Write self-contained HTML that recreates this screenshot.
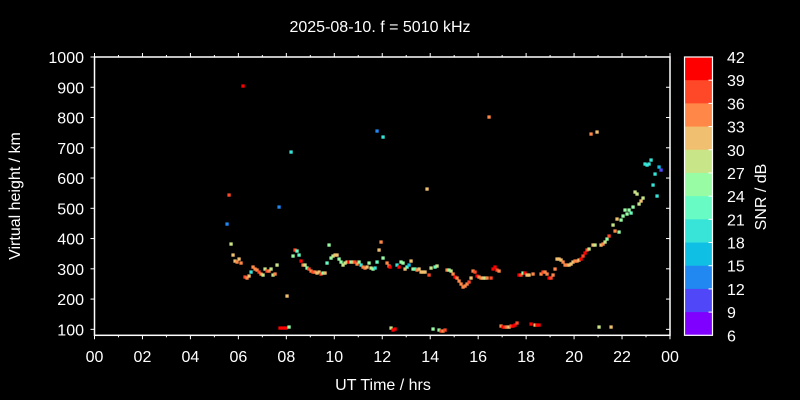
<!DOCTYPE html>
<html><head><meta charset="utf-8"><style>
html,body{margin:0;padding:0;background:#000;}
svg{display:block;font-family:"Liberation Sans",sans-serif;}
</style></head><body>
<svg id="s" width="800" height="400" xmlns="http://www.w3.org/2000/svg">
<rect width="800" height="400" fill="#000"/>
<text x="380" y="32" fill="#fff" font-size="16" text-anchor="middle">2025-08-10. f = 5010 kHz</text>
<g id="axes" stroke="#fff" stroke-width="1.5" fill="none">
<rect x="94.5" y="57" width="575.5" height="278.3"/>
</g>
<g id="ticks" stroke="#fff" stroke-width="1"></g>
<g id="labels" fill="#fff" font-size="16"></g>
<text x="383" y="390" fill="#fff" font-size="16" text-anchor="middle">UT Time / hrs</text>
<text transform="translate(20,196) rotate(-90)" fill="#fff" font-size="16" text-anchor="middle">Virtual height / km</text>
<g id="cb"></g>
<text transform="translate(766,197) rotate(-90)" fill="#fff" font-size="16" text-anchor="middle">SNR / dB</text>
<g id="pts"></g>
</svg>
<script>
var NS="http://www.w3.org/2000/svg";
function el(t,a,p,txt){var e=document.createElementNS(NS,t);for(var k in a)e.setAttribute(k,a[k]);if(txt!==undefined)e.textContent=txt;document.getElementById(p).appendChild(e);return e;}
var x0=94.5,x1=670,y0=57,y1=335.3;
// x ticks
for(var h=0;h<=24;h++){var x=x0+h*(x1-x0)/24;var L=(h%2==0)?4:2;
 el("line",{x1:x,y1:y1,x2:x,y2:y1+L},"ticks");el("line",{x1:x,y1:y0,x2:x,y2:y0-L},"ticks");
 if(h%2==0){var s=(h%24<10?"0":"")+(h%24);el("text",{x:x,y:362,"text-anchor":"middle"},"labels",s);}}
// y ticks
for(var v=100;v<=1000;v+=100){var y=57+(1000-v)*30.26/100;
 el("line",{x1:x0,y1:y,x2:x0-4,y2:y},"ticks");el("line",{x1:x1,y1:y,x2:x1-4,y2:y},"ticks");
 el("text",{x:84,y:y+6,"text-anchor":"end"},"labels",String(v));}
// colorbar
var C={R:"#ff0000",r:"#ff4828",o:"#ff8848",y:"#f0c070",l:"#c8e688",g:"#98fca4",m:"#68fcc4",t:"#38e4d8",c:"#10c0e4",b:"#2088f0",v:"#5048f8",p:"#8000ff"};
var order="Rroylgmtcbvp";var bh=(335.3-57)/12;
for(var i=0;i<12;i++){el("rect",{x:684.5,y:57+i*bh,width:28,height:bh+0.5,fill:C[order[i]]},"cb");}
el("rect",{x:684.5,y:57,width:28,height:278.3,fill:"none",stroke:"#fff","stroke-width":1.2},"cb");
for(var i=1;i<12;i++){el("line",{x1:708.5,x2:712.5,y1:57+i*bh,y2:57+i*bh,stroke:"#fff"},"cb");}
for(var i=0;i<=12;i++){el("text",{x:727,y:57+i*bh+6,fill:"#fff","font-size":16},"cb",String(42-3*i));}
// points
var P="243,86,R 229,195,r 227,224,b 279,207,b 291,152,t 231,244,l 233,255,y 235,261,y 237,262,o 239,259,y 241,263,o 245,277,r 247,278,o 249,276,y 251,272,t 253,267,o 255,269,o 257,270,o 259,272,r 261,274,o 263,275,l 265,269,l 267,271,r 269,271,o 271,269,l 273,275,l 275,274,o 277,265,l 287,296,y 280,328,R 283,328,R 286,328,R 289,327,g 295,250,r 297,251,m 293,256,g 299,255,m 301,261,R 303,265,o 305,265,l 307,268,g 309,269,r 311,271,o 313,272,r 315,272,o 317,273,y 319,272,y 321,274,r 323,273,g 325,273,y 329,245,g 327,263,m 331,258,g 333,256,l 335,255,y 337,255,y 339,259,g 341,262,g 343,265,l 345,263,l 347,262,y 349,262,R 351,262,g 353,262,y 355,262,r 357,264,o 359,262,g 361,265,t 363,267,o 365,268,o 367,267,y 369,263,g 371,268,l 373,269,g 375,268,t 377,262,m 379,250,y 381,242,o 383,258,g 387,263,o 389,266,o 390,267,R 391,328,l 393,330,R 395,329,R 397,265,t 399,267,R 401,262,g 403,263,g 405,269,y 407,267,m 409,265,c 411,261,y 413,269,g 415,269,m 417,270,o 419,269,y 421,272,y 423,272,y 425,272,y 429,275,r 431,268,l 435,267,m 437,266,l 433,329,g 439,330,g 441,331,r 443,331,o 445,330,r 447,270,o 449,270,g 451,271,l 453,274,o 455,277,R 457,278,o 459,281,o 461,284,o 463,287,o 465,286,o 467,284,o 469,282,r 471,278,y 473,271,o 475,272,r 477,276,R 479,277,o 481,278,o 483,278,y 485,278,l 487,278,o 491,278,r 493,269,R 495,267,R 497,270,r 499,271,o 501,326,o 503,327,R 505,327,r 507,327,o 509,327,y 511,326,r 513,326,R 515,325,R 517,323,r 519,275,R 521,275,r 523,273,g 525,273,R 527,275,y 529,275,y 533,274,o 531,324,R 535,325,y 537,325,R 539,325,R 541,274,o 543,272,r 545,272,o 547,274,o 549,278,R 551,278,r 553,275,o 555,269,o 557,259,y 559,259,y 561,260,y 563,262,o 565,265,o 567,265,o 569,265,y 571,264,y 573,262,y 575,261,o 577,261,o 579,260,y 581,259,R 583,256,r 585,253,R 587,250,r 589,249,l 591,134,o 597,132,y 593,245,y 595,245,l 601,245,y 603,244,o 605,242,l 607,239,g 609,236,r 613,225,l 615,231,o 617,219,y 619,232,g 621,220,g 623,216,g 625,210,g 627,214,g 629,210,g 631,213,m 633,207,g 635,192,l 637,194,l 639,204,l 641,201,y 643,198,l 645,164,t 647,165,t 649,164,t 651,160,t 653,185,t 655,174,t 657,196,t 659,167,c 661,170,v 599,327,l 611,327,y 377,131,b 383,137,t 427,189,y 489,117,o";
P.split(" ").forEach(function(s){var a=s.split(",");el("rect",{x:+a[0]-1.6,y:+a[1]-1.6,width:3.3,height:3.3,fill:C[a[2]]},"pts");});
</script>
</body></html>
